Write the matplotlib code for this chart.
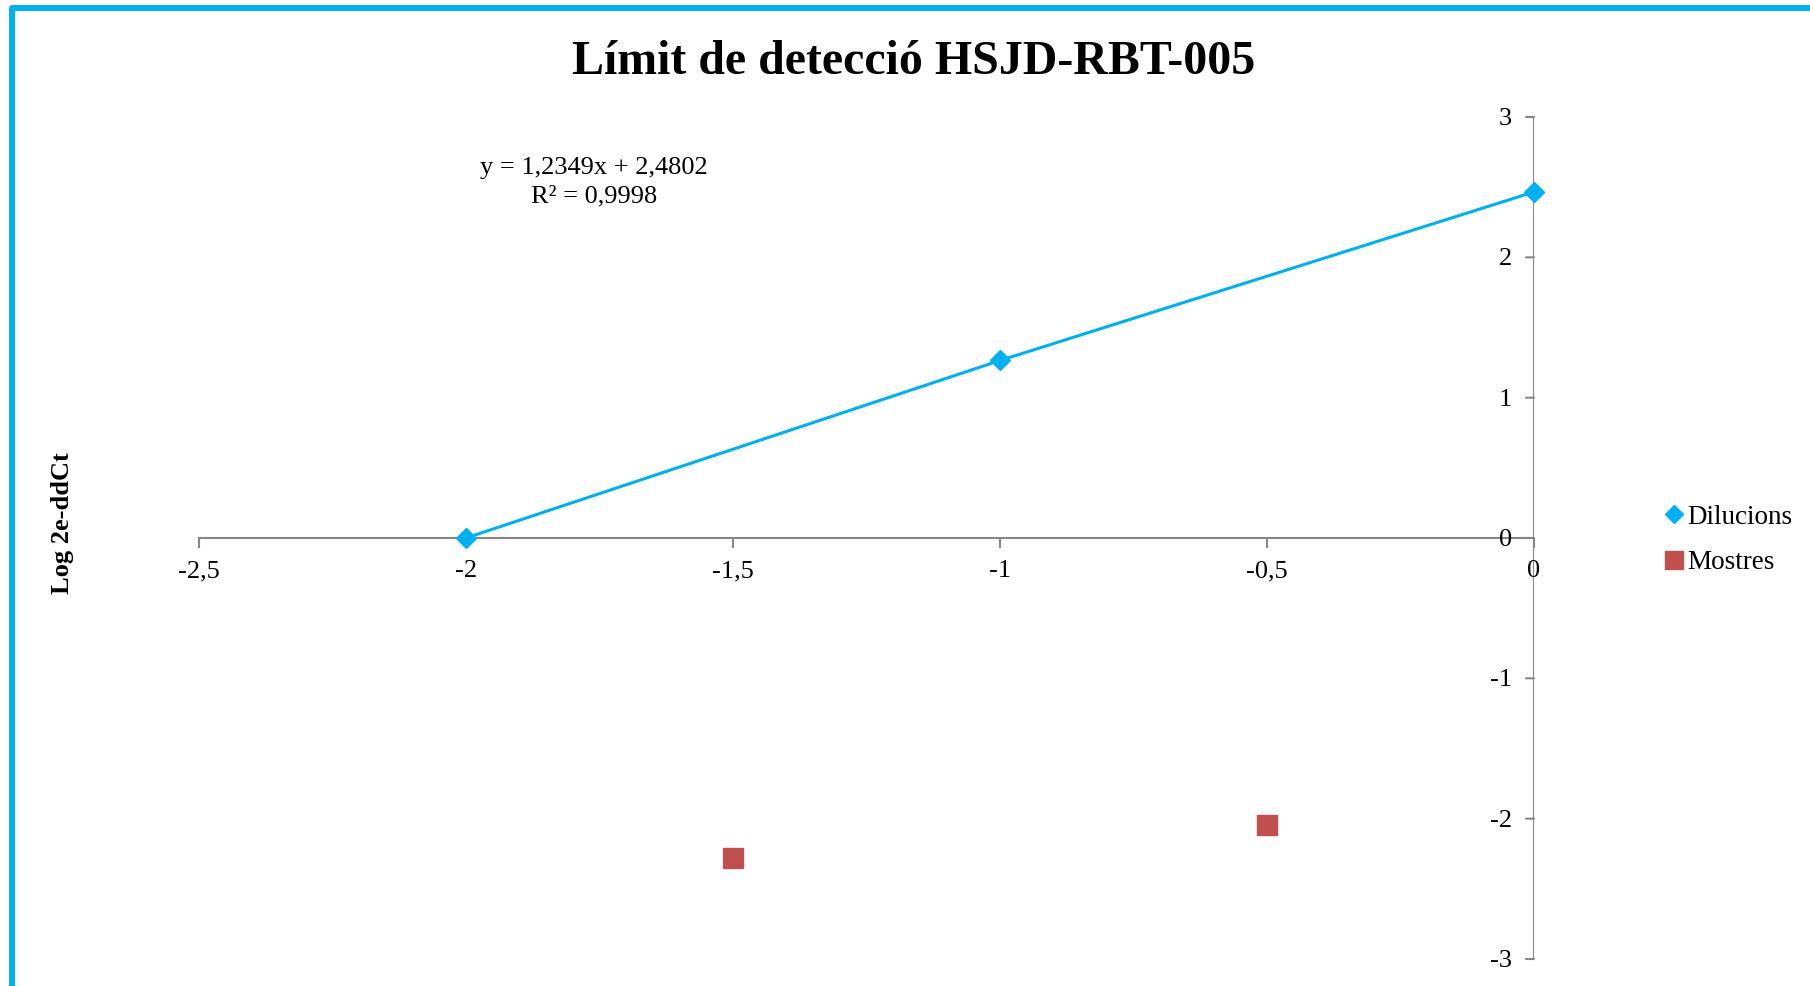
import matplotlib
matplotlib.use("Agg")
import matplotlib.pyplot as plt
from matplotlib.patches import Rectangle
from matplotlib.lines import Line2D

# Data
dil_x = [-2, -1, 0]
dil_y = [0.0, 1.265, 2.466]
mos_x = [-1.5, -0.5]
mos_y = [-2.277, -2.047]
xticks = [-2.5, -2, -1.5, -1, -0.5, 0]
yticks = [-3, -2, -1, 0, 1, 2, 3]
title = "Límit de detecció HSJD-RBT-005"
ylabel = "Log 2e-ddCt"
eq_text = "y = 1,2349x + 2,4802\nR² = 0,9998"

BLUE = "#00B0F0"
RED = "#C0504D"
AXC = "#868686"
plt.rcParams['font.family'] = ['Liberation Serif', 'DejaVu Serif']

W, H = 1810, 986
fig = plt.figure(figsize=(W / 100, H / 100), dpi=100)
ax = fig.add_axes([199 / W, 1 - 959 / H, (1534 - 199) / W, (959 - 117) / H])
ax.set_xlim(-2.5, 0)
ax.set_ylim(-3, 3)

ax.plot(dil_x, dil_y, color=BLUE, lw=2.2, marker='D', ms=10, mec=BLUE, mfc=BLUE,
        zorder=5, clip_on=False, label="Dilucions")
ax.plot(mos_x, mos_y, ls='none', marker='s', ms=14, color=RED, zorder=5,
        clip_on=False, label="Mostres")

# spines: x axis at y=0, y axis at x=0
for s in ['top', 'left', 'right']:
    ax.spines[s].set_visible(False)
ax.spines['bottom'].set_position(('data', 0))
ax.spines['bottom'].set_color(AXC)
ax.spines['bottom'].set_linewidth(1.5)
ax.axvline(0, color=AXC, lw=1.5, zorder=1)

ax.set_xticks(xticks)
ax.set_xticklabels([f"{v:g}".replace('.', ',') for v in xticks])
ax.set_yticks(yticks)
ax.tick_params(axis='x', direction='out', length=7, width=1.5, color=AXC,
               labelsize=19, pad=9)
ax.tick_params(axis='y', left=False, labelleft=False)
# y ticks and labels at x=0
for v in yticks:
    ax.annotate("", xy=(0, v), xycoords='data', xytext=(-8, 0),
                textcoords='offset pixels',
                arrowprops=dict(arrowstyle='-', color=AXC, lw=1.5,
                                shrinkA=0, shrinkB=0))
    ax.annotate(f"{v:g}", xy=(0, v), xycoords='data', xytext=(-22, -2),
                textcoords='offset pixels', ha='right', va='center',
                fontsize=19)

fig.text(914 / W, 1 - 62 / H, title, ha='center', va='center', fontsize=34.5,
         fontweight='bold')
fig.text(63 / W, 1 - 523 / H, ylabel, ha='center', va='center', fontsize=19,
         fontweight='bold', rotation=90)
fig.text(594 / W, 1 - 182 / H, eq_text, ha='center', va='center', fontsize=19,
         linespacing=1.4)

handles = [Line2D([], [], ls='none', marker='D', ms=9, color=BLUE),
           Line2D([], [], ls='none', marker='s', ms=13, color=RED)]
fig.legend(handles, ["Dilucions", "Mostres"], loc='center left',
           bbox_to_anchor=(1666 / W, 1 - 540 / H), frameon=False, fontsize=19.5,
           handlelength=0.6, handletextpad=0.2, labelspacing=0.75,
           borderpad=0, borderaxespad=0)

# blue frame (top and left edges visible)
fig.patches.append(Rectangle((12 / W, -0.1), 1.2, 1 - 8 / H + 0.1,
                             transform=fig.transFigure, fill=False,
                             edgecolor=BLUE, lw=4.3, joinstyle='round'))

fig.savefig("out.png", dpi=100)
